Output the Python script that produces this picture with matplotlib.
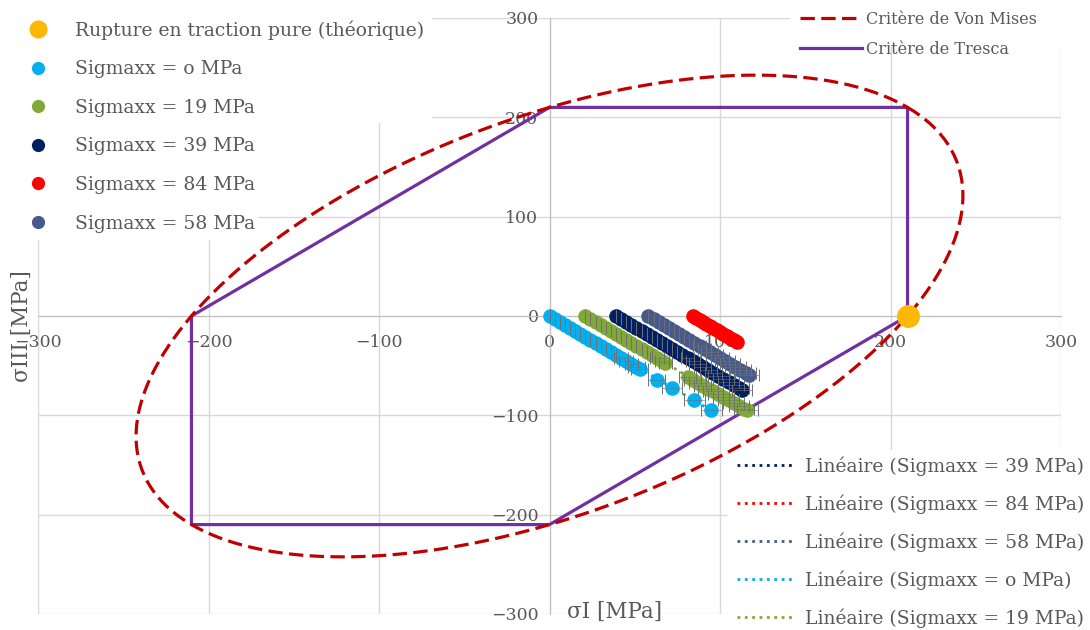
import matplotlib.pyplot as plt
import numpy as np
from matplotlib.lines import Line2D
from matplotlib.patches import Rectangle

# --- data (MPa) ---
sigma_e = 210  # traction pure

tresca_x = [0, 210, 210, 0, -210, -210, 0]
tresca_y = [210, 210, 0, -210, -210, 0, 210]

rupture_x = [210]
rupture_y = [0]

s0_x = [0, 3, 6, 9, 12, 15, 18, 21, 24, 27, 30, 33, 36, 39, 42, 45, 48, 51, 53, 63, 72, 85, 95]
s0_y = [0, -3, -6, -9, -12, -15, -18, -21, -24, -27, -30, -33, -36, -39, -42, -45, -48, -51, -53, -64, -72, -85, -95]
s0_err = [0, 0, 0, 0, 0, 0, 0, 0, 0, 0, 0, 0, 0, 0, 4, 4, 4, 5, 5, 5, 6, 6, 6]

s19_x = [21, 24, 27, 30, 33, 36, 39, 42, 45, 48, 51, 54, 57, 60, 63, 66, 68,
         81, 84, 87, 90, 93, 96, 99, 102, 105, 108, 111, 114, 116]
s19_y = [0, -3, -6, -9, -12, -15, -18, -21, -24, -27, -30, -33, -36, -39, -42, -45, -47,
         -61, -64, -67, -70, -73, -76, -79, -82, -85, -88, -91, -94, -95]
s19_err = [0, 0, 0, 0, 0, 0, 0, 0, 0, 0, 0, 0, 0, 0, 4, 4, 4,
           5, 5, 5, 5, 6, 6, 6, 6, 6, 6, 6, 6, 6]

s39_x = [39, 42, 45, 48, 51, 54, 57, 60, 63, 66, 69, 72, 75, 78, 81, 84, 87, 90, 93,
         96, 99, 102, 105, 108, 111, 113]
s39_y = [0, -3, -6, -9, -12, -15, -18, -21, -24, -27, -30, -33, -36, -39, -42, -45, -48, -51, -54,
         -57, -60, -63, -66, -69, -72, -74]
s39_err = [0, 0, 0, 0, 0, 0, 0, 0, 0, 0, 0, 0, 0, 0, 4, 4, 5, 5, 5,
           5, 6, 6, 6, 6, 6, 6]

s84_x = [84, 86, 88, 90, 92, 94, 96, 98, 100, 102, 104, 106, 108, 110]
s84_y = [0, -2, -4, -6, -8, -10, -12, -14, -16, -18, -20, -22, -24, -26]

s58_x = [58, 61, 64, 67, 70, 73, 76, 79, 82, 85, 88, 91, 94, 97, 100, 103, 106, 109, 112, 115, 117]
s58_y = [0, -3, -6, -9, -12, -15, -18, -21, -24, -27, -30, -33, -36, -39, -42, -45, -48, -51, -54, -57, -59]
s58_err = [0, 0, 0, 0, 0, 0, 0, 0, 0, 0, 4, 4, 5, 5, 5, 6, 6, 6, 6, 6, 6]

GREY = "#595959"
C_YEL = "#FFB800"
C_CYAN = "#00B0F0"
C_GREEN = "#80A93A"
C_NAVY = "#002060"
C_RED = "#FF0000"
C_SLATE = "#475A8C"
C_VM = "#C00000"
C_TR = "#7030A0"

plt.rcParams["font.family"] = ["DejaVu Serif"]

W, H = 1090, 630
fig = plt.figure(figsize=(10.9, 6.3), dpi=100)
ax = fig.add_axes([38 / W, 16 / H, 1023 / W, 596 / H])
ax.set_xlim(-300, 300)
ax.set_ylim(-300, 300)

ax.set_xticks(np.arange(-300, 301, 100))
ax.set_yticks(np.arange(-300, 301, 100))
ax.grid(True, color="#d9d9d9", lw=1)
ax.set_axisbelow(True)
for s in ["top", "right"]:
    ax.spines[s].set_visible(False)
for s in ["left", "bottom"]:
    ax.spines[s].set_position("zero")
    ax.spines[s].set_color("#bfbfbf")
ax.tick_params(length=0, labelsize=12.5, labelcolor=GREY)
ax.tick_params(axis="x", pad=13)
ax.tick_params(axis="y", pad=8)


def white_box(x0, y0, x1, y1):
    # legend background, given in figure pixels from the top-left corner
    ax.add_patch(Rectangle((x0 / W, 1 - y1 / H), (x1 - x0) / W, (y1 - y0) / H,
                           transform=fig.transFigure, facecolor="white",
                           edgecolor="none", zorder=1, clip_on=False))


white_box(0, 0, 432, 123)
white_box(0, 123, 258, 240)
white_box(790, 0, W, 45)
white_box(728, 450, W, H)

# Von Mises ellipse
t = np.linspace(0, 2 * np.pi, 400)
u = np.sqrt(2) * sigma_e * np.cos(t)
v = np.sqrt(2 / 3) * sigma_e * np.sin(t)
vm_x = (u + v) / np.sqrt(2)
vm_y = (u - v) / np.sqrt(2)

ax.plot(tresca_x, tresca_y, color=C_TR, lw=2.3, zorder=3)
ax.plot(vm_x, vm_y, color=C_VM, lw=2.3, ls=(0, (4.5, 2)), zorder=3)

series = [
    (s0_x, s0_y, s0_err, C_CYAN),
    (s19_x, s19_y, s19_err, C_GREEN),
    (s39_x, s39_y, s39_err, C_NAVY),
    (s58_x, s58_y, s58_err, C_SLATE),
    (s84_x, s84_y, None, C_RED),
]
for x, y, err, c in series:
    ax.plot(x, y, "o", color=c, ms=10.5, mec="none", zorder=4)
    k = np.polyfit(x, y, 1)
    ax.plot([x[0], x[-1]], np.polyval(k, [x[0], x[-1]]), color=c, lw=2, ls=":", zorder=4.5)
for x, y, err, c in series:
    if err is not None:
        ax.errorbar(x, y, xerr=err, fmt="none", ecolor="#707070", elinewidth=0.4,
                    capsize=4, capthick=0.7, zorder=5)

ax.plot(rupture_x, rupture_y, "o", color=C_YEL, ms=16.5, mec="none", zorder=6)

fig.text(615 / W, 1 - 612 / H, "σI [MPa]", ha="center", va="center",
         fontsize=15.5, color=GREY)
fig.text(22 / W, 1 - 326 / H, "σIII [MPa]", rotation=90,
         ha="center", va="center", fontsize=15.5, color=GREY)

leg_kw = dict(frameon=False, labelcolor=GREY, borderaxespad=0, borderpad=0)

h1 = [
    Line2D([], [], ls="none", marker="o", ms=13, mec="none", color=C_YEL),
    Line2D([], [], ls="none", marker="o", ms=9.5, mec="none", color=C_CYAN),
    Line2D([], [], ls="none", marker="o", ms=9.5, mec="none", color=C_GREEN),
    Line2D([], [], ls="none", marker="o", ms=9.5, mec="none", color=C_NAVY),
    Line2D([], [], ls="none", marker="o", ms=9.5, mec="none", color=C_RED),
    Line2D([], [], ls="none", marker="o", ms=9.5, mec="none", color=C_SLATE),
]
l1 = ["Rupture en traction pure (théorique)", "Sigmaxx = o MPa", "Sigmaxx = 19 MPa",
      "Sigmaxx = 39 MPa", "Sigmaxx = 84 MPa", "Sigmaxx = 58 MPa"]
leg1 = fig.legend(h1, l1, loc="upper left", bbox_to_anchor=(19 / W, 1 - 20 / H),
                  fontsize=13.5, labelspacing=1.1, handlelength=2.0,
                  handletextpad=0.97, **leg_kw)

h2 = [Line2D([], [], color=C_VM, lw=2.3, ls=(0, (4.5, 2))),
      Line2D([], [], color=C_TR, lw=2.3)]
l2 = ["Critère de Von Mises", "Critère de Tresca"]
leg2 = fig.legend(h2, l2, loc="upper left", bbox_to_anchor=(800 / W, 1 - 11 / H),
                  fontsize=11.5, labelspacing=0.8, handlelength=3.9,
                  handletextpad=0.25, **leg_kw)

h3 = [Line2D([], [], color=c, lw=2, ls=":") for c in [C_NAVY, C_RED, C_SLATE, C_CYAN, C_GREEN]]
l3 = ["Linéaire (Sigmaxx = 39 MPa)", "Linéaire (Sigmaxx = 84 MPa)",
      "Linéaire (Sigmaxx = 58 MPa)", "Linéaire (Sigmaxx = o MPa)",
      "Linéaire (Sigmaxx = 19 MPa)"]
leg3 = fig.legend(h3, l3, loc="upper left", bbox_to_anchor=(737 / W, 1 - 456 / H),
                  fontsize=13.5, labelspacing=0.99, handlelength=3.1,
                  handletextpad=0.53, **leg_kw)

fig.savefig("out.png", dpi=100)
